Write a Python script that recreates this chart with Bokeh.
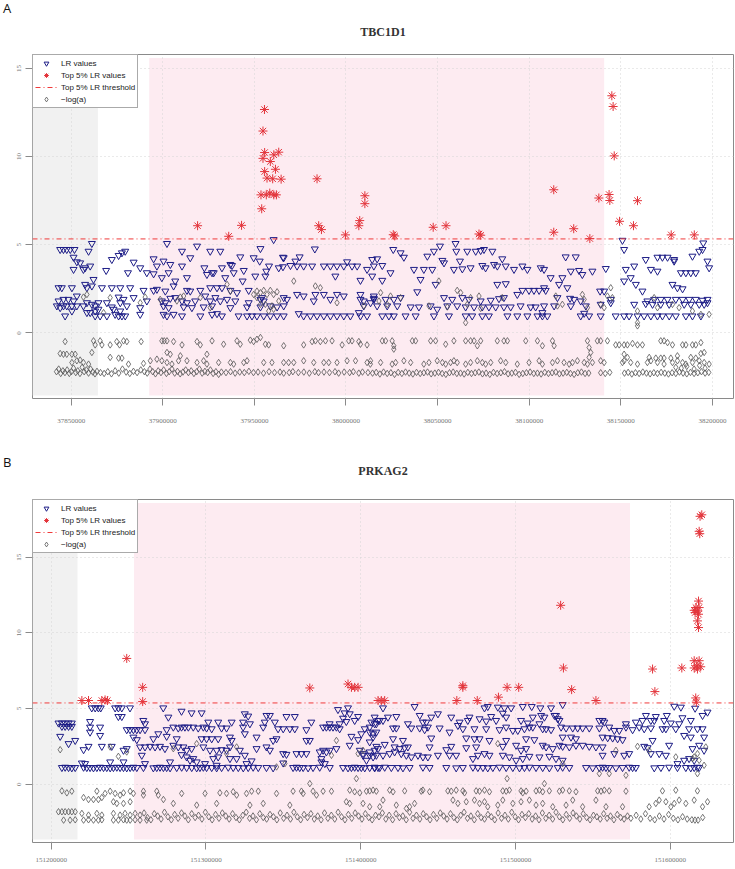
from bokeh.plotting import figure
from bokeh.models import (Range1d, FixedTicker, BasicTickFormatter, BoxAnnotation,
                          Legend, LegendItem, Div)
from bokeh.layouts import column, row
from bokeh.embed import file_html
from bokeh.resources import INLINE

# ---------------- DATA (positions in kb, values) ----------------
a_title = "TBC1D1"
b_title = "PRKAG2"
a_xticks = [37850000, 37900000, 37950000, 38000000, 38050000, 38100000, 38150000, 38200000]
b_xticks = [151200000, 151300000, 151400000, 151500000, 151600000]
y_ticks = [0, 5, 10, 15]
a_threshold = 5.33
b_threshold = 5.37
a_grey_region = (37828.9, 37864.6)
a_pink_region = (37892.6, 38140.9)
b_grey_region = (151187.9, 151217.0)
b_pink_region = (151253.5, 151574.0)

a_top = [(37919.0,6.08),(37936.0,5.48),(37943.0,6.10),(37955.5,12.67),(37954.7,11.45),(37955.6,10.23),
         (37954.7,9.90),(37960.6,10.10),(37963.3,10.25),(37958.7,9.72),(37961.5,9.28),(37955.6,9.15),
         (37956.9,8.78),(37960.0,8.74),(37964.6,8.72),(37953.6,7.83),(37956.5,7.83),(37958.4,7.93),
         (37960.6,7.83),(37962.0,7.83),(37954.0,7.04),(37984.2,8.74),(37985.1,6.08),(37986.6,5.86),
         (37999.7,5.56),(38007.0,6.08),(38007.5,6.37),(38010.3,7.78),(38010.3,7.33),(38025.8,5.57),
         (38026.6,5.50),(38047.6,5.99),(38054.6,6.08),(38072.6,5.61),(38073.5,5.54),(38113.4,8.12),
         (38113.4,5.71),(38124.3,5.91),(38133.1,5.35),(38138.0,7.65),(38143.6,7.85),(38144.0,7.51),
         (38145.1,13.45),(38145.8,12.84),(38146.4,10.04),(38149.3,6.33),(38156.9,6.08),(38159.1,7.50),
         (38177.5,5.56),(38190.1,5.56)]

a_lr = [(37844.0,4.73),(37845.8,4.73),(37847.6,4.73),(37849.5,4.73),(37851.8,4.73),(37861.3,5.07),(37859.5,4.63),
        (37875.9,4.39),(37877.7,4.54),(37879.5,4.63),(37902.3,5.07),(37910.5,4.63),(37918.7,4.92),(37925.9,4.63),
        (37931.4,4.63),(37942.3,4.31),(37953.3,4.78),(37974.7,4.31),(37983.0,4.76),(37965.6,4.29),(37960.5,5.29),
        (37851.3,4.29),(37853.1,4.03),(37854.9,3.97),(37872.2,4.16),(37884.1,4.01),(37895.0,4.20),(37900.4,4.07),
        (37915.0,4.26),(37936.9,3.88),(37949.6,4.26),(37952.9,4.07),(37966.0,4.26),(37972.4,4.07),(38000.6,4.03),
        (38017.0,4.20),
        (37856.7,3.60),(37857.6,3.69),(37851.3,3.60),(37860.4,3.79),(37869.1,3.54),(37881.0,3.41),(37887.7,3.69),
        (37891.3,3.41),(37896.8,3.79),(37904.1,3.88),(37910.5,3.79),(37922.7,3.69),(37927.8,3.41),(37932.3,3.69),
        (37937.8,3.82),(37944.2,3.54),(37956.5,3.50),(37958.0,3.79),(37965.6,3.75),(37969.7,3.82),(37973.3,3.79),
        (37976.9,3.79),(37981.5,3.79),(37987.9,3.79),(37991.5,3.79),(37995.1,3.79),(37998.8,3.79),(38003.3,3.79),
        (38006.1,3.79),(38011.5,3.60),(38015.2,3.79),
        (37895.0,3.35),(37899.5,3.13),(37903.2,3.41),(37906.8,2.94),(37913.2,3.13),(37924.1,3.31),(37926.9,3.41),
        (37934.1,3.13),(37938.7,3.41),(37943.6,2.94),(37950.5,3.22),(37956.0,3.22),(37963.3,3.69),(37994.2,3.22),
        (38007.9,2.98),(38014.3,3.22),(37862.2,3.03),
        (37843.1,2.56),(37844.9,2.56),(37850.4,2.56),(37857.6,2.75),(37858.6,2.56),(37861.3,2.66),(37866.8,2.56),
        (37872.2,2.56),(37876.8,2.56),(37882.2,2.56),(37889.5,2.41),(37895.0,2.41),(37896.8,2.47),(37901.4,2.37),
        (37905.9,2.66),(37913.2,2.41),(37915.0,2.37),(37920.5,2.41),(37925.9,2.56),(37929.6,2.56),(37932.3,2.56),
        (37936.9,2.41),(37940.5,2.28),(37946.9,2.41),(37973.3,2.18),(37976.9,2.09),(37983.3,2.18),(37987.9,2.18),
        (37995.1,2.18),(37998.8,2.09),(38007.9,2.18),(38015.2,2.09),
        (37853.1,2.09),(37875.9,2.03),(37884.1,2.00),(37904.1,1.96),(37906.8,2.00),(37923.2,2.09),(37928.7,2.00),
        (37935.1,1.90),(37954.2,2.00),(37967.8,1.90),(38007.9,1.90),
        (37843.1,1.81),(37845.8,1.90),(37848.5,1.90),(37851.3,1.81),(37858.6,1.71),(37864.9,1.71),(37869.5,1.71),
        (37876.8,1.71),(37878.6,1.90),(37891.3,1.81),(37899.5,1.81),(37901.4,1.71),(37910.5,1.81),(37913.2,1.71),
        (37917.7,1.81),(37925.9,1.81),(37931.4,1.81),(37939.6,1.81),(37946.9,1.71),(37953.3,1.90),(37955.1,1.81),
        (37966.0,2.00),(37982.4,1.81),(37991.5,1.90),(38009.7,1.81),(38015.2,1.90),
        (37842.2,1.53),(37844.0,1.43),(37845.8,1.53),(37847.6,1.53),(37850.4,1.53),(37853.1,1.53),(37856.7,1.53),
        (37861.3,1.62),(37863.1,1.53),(37872.2,1.47),(37880.4,1.53),(37887.7,1.43),(37900.4,1.53),(37903.2,1.43),
        (37911.4,1.47),(37915.9,1.43),(37922.3,1.47),(37926.9,1.53),(37936.9,1.43),(37946.0,1.47),(37953.3,1.47),
        (37958.7,1.53),(37962.4,1.47),(37966.0,1.53),(38009.7,1.53),
        (37850.4,1.24),(37858.6,1.15),(37860.4,1.15),(37863.1,1.24),(37864.9,1.34),(37873.1,1.34),(37876.8,1.24),
        (37846.7,0.96),(37863.1,0.96),(37865.8,0.96),(37869.5,0.96),(37874.0,1.05),(37875.9,0.96),(37877.7,0.96),
        (37879.5,0.96),(37887.7,1.05),(37900.4,1.05),(37902.3,0.96),(37905.9,1.05),(37910.5,0.96),(37920.5,0.96),
        (37926.9,1.05),(37929.6,1.09),(37932.3,0.96),(37941.4,0.96),(37946.0,0.96),(37948.7,0.96),(37951.4,0.96),
        (37955.1,0.96),(37958.7,0.96),(37962.4,0.96),(37966.0,0.96),(37974.2,1.09),(37976.9,0.96),(37980.6,0.96),
        (37984.2,0.96),(37987.9,0.96),(37991.5,0.96),(37995.1,0.96),(37998.8,0.96),(38002.4,0.96),(38007.0,1.15),
        (38007.9,0.96),(38011.5,0.96),
        (38059.8,5.07),(38060.2,4.63),(38051.3,4.92),(38150.9,5.25),(38151.8,4.73),(38195.0,5.10),
        (38025.8,4.73),(38029.8,4.54),(38031.6,4.29),(38044.4,4.35),(38048.0,4.63),(38052.6,4.11),(38062.2,4.07),
        (38066.2,4.63),(38070.8,4.63),(38073.5,4.67),(38075.3,4.73),(38079.9,4.63),(38085.3,4.20),(38087.2,3.79),
        (38119.9,4.31),(38125.4,4.31),(38170.0,4.29),(38172.7,4.29),(38175.5,4.29),(38179.1,4.16),(38189.1,4.35),
        (38192.8,4.63),(38194.6,4.73),
        (38014.3,4.16),(38019.8,3.82),(38024.3,3.41),(38037.1,3.60),(38042.5,3.60),(38047.1,3.60),(38053.5,3.97),
        (38058.9,3.60),(38063.5,3.63),(38068.0,3.69),(38074.4,3.82),(38076.2,3.69),(38080.8,3.88),(38082.6,3.79),
        (38091.7,3.60),(38096.3,3.79),(38099.0,3.60),(38106.3,3.69),(38108.1,3.60),(38111.7,3.13),(38116.3,2.75),
        (38118.1,3.13),(38122.7,3.50),(38127.2,3.54),(38129.0,3.31),(38134.5,3.50),(38141.8,3.65),(38152.7,3.60),
        (38157.3,3.79),(38163.6,4.16),(38166.4,3.60),(38170.0,3.50),(38179.1,4.07),(38182.8,3.41),(38185.5,3.41),
        (38188.2,3.41),(38190.9,3.41),(38197.3,4.07),(38198.2,3.69),
        (38019.8,2.98),(38040.7,3.03),(38048.9,2.75),(38082.6,2.75),(38087.2,2.79),(38093.5,2.18),(38108.1,2.56),
        (38120.8,2.56),(38138.7,2.37),(38178.2,2.75),(38180.9,2.56),(38183.7,2.50),(38151.8,2.94),(38155.4,3.13),
        (38158.2,2.75),(38161.8,2.37),
        (38015.2,1.96),(38021.6,1.90),(38026.1,1.90),(38029.8,2.00),(38038.9,2.33),(38053.5,2.00),(38058.0,1.90),
        (38063.5,2.00),(38067.1,1.90),(38073.5,1.81),(38079.0,1.85),(38083.5,1.94),(38086.2,2.00),(38096.3,2.41),
        (38099.9,2.41),(38102.6,2.41),(38105.4,2.41),(38109.0,2.41),(38115.4,2.00),(38122.3,1.96),(38124.5,1.90),
        (38128.1,1.81),(38140.9,2.37),(38144.5,1.90),(38164.5,1.81),(38168.2,1.90),(38171.8,1.90),(38175.5,1.90),
        (38180.0,1.90),(38183.7,1.90),(38187.3,1.90),(38190.9,1.90),(38194.6,1.85),(38197.3,1.90),
        (38013.4,1.71),(38017.0,1.53),(38022.5,1.53),(38028.0,1.53),(38035.3,1.47),(38039.8,1.47),(38046.2,1.53),
        (38049.8,1.34),(38055.3,1.53),(38060.7,1.53),(38065.3,1.47),(38069.9,1.47),(38074.4,1.47),(38078.0,1.47),
        (38081.7,1.47),(38086.2,1.47),(38089.9,1.47),(38095.3,1.53),(38100.8,1.47),(38103.5,1.47),(38108.1,1.53),
        (38113.6,1.53),(38122.7,1.53),(38130.9,1.53),(38139.0,1.62),(38144.5,1.71),(38157.3,1.62),(38163.6,1.66),
        (38167.3,1.62),(38171.8,1.62),(38176.4,1.62),(38184.6,1.62),(38188.2,1.62),(38192.8,1.62),(38195.5,1.62),
        (38197.3,1.71),
        (38019.8,0.96),(38023.4,0.96),(38026.1,0.96),(38032.5,0.96),(38038.0,0.96),(38048.0,0.96),(38056.2,0.96),
        (38065.3,0.96),(38068.9,0.96),(38074.4,0.96),(38078.0,0.96),(38088.1,0.96),(38093.5,0.96),(38099.0,0.96),
        (38104.5,0.96),(38107.2,0.96),(38109.9,0.96),(38128.1,0.96),(38132.7,0.96),(38139.0,0.96),(38147.2,0.96),
        (38151.8,0.96),(38154.5,0.96),(38159.1,0.96),(38162.7,0.96),(38166.4,0.96),(38170.0,0.96),(38172.7,0.96),
        (38176.4,0.96),(38180.0,0.96),(38185.5,0.96),(38189.1,0.96),(38193.7,0.96),(38107.2,1.15),(38130.0,1.11)]

a_nla = [(37949.6,2.18),(37951.4,2.37),(37953.3,2.28),(37955.1,2.41),(37956.9,2.18),(37958.7,2.41),(37960.5,2.18),
         (37962.4,2.33),(37956.0,1.62),(37959.6,1.53),(37963.3,1.81),(37953.3,1.62),(37957.8,1.24),(37960.5,1.34),
         (37951.4,2.00),(37890.4,2.03),(37887.7,1.71),(37898.6,1.90),(37907.7,1.81),(37909.6,2.03),(37925.9,1.43),
         (37935.1,2.75),(37936.9,2.37),(37971.5,2.94),(37983.3,2.66),(37986.0,2.56),(37995.1,1.71),(37856.7,2.03),
         (37858.6,2.18),(37871.3,2.00),(37867.7,1.15),(37920.5,2.00),(37911.4,2.09),(38009.7,1.53),
         (37846.7,-0.49),(37862.2,-0.45),(37863.1,-0.68),(37865.8,-0.45),(37866.8,-0.68),(37871.3,-0.68),
         (37874.9,-0.49),(37876.4,-0.68),(37878.6,-0.45),(37880.4,-0.49),(37888.2,-0.49),(37899.5,-0.45),
         (37900.8,-0.45),(37902.3,-0.45),(37905.9,-0.49),(37910.5,-0.68),(37918.7,-0.49),(37920.5,-0.68),
         (37926.9,-0.45),(37933.2,-0.64),(37940.5,-0.45),(37942.3,-0.64),(37947.8,-0.41),(37949.6,-0.49),
         (37951.4,-0.36),(37953.3,-0.26),(37956.0,-0.64),(37957.8,-0.68),(37966.0,-0.73),(37976.9,-0.68),
         (37981.5,-0.49),(37983.3,-0.45),(37986.0,-0.49),(37988.8,-0.45),(37992.4,-0.45),(37997.9,-0.68),
         (38001.5,-0.45),(38003.3,-0.45),(38007.0,-0.49),(38007.9,-0.64),(38011.5,-0.68),
         (37844.0,-1.17),(37845.8,-1.21),(37847.6,-1.21),(37850.4,-1.21),(37852.2,-1.21),(37861.3,-1.11),
         (37871.3,-1.39),(37875.9,-1.43),(37877.7,-1.43),(37902.3,-1.11),(37904.1,-1.21),(37909.6,-1.30),
         (37924.1,-1.21),
         (37850.4,-1.68),(37853.1,-1.58),(37854.9,-1.54),(37856.7,-1.68),(37859.5,-1.77),(37881.3,-1.77),
         (37889.5,-1.73),(37893.2,-1.58),(37896.8,-1.49),(37899.5,-1.58),(37902.3,-1.68),(37905.0,-1.77),
         (37908.6,-1.58),(37913.2,-1.58),(37918.7,-1.68),(37922.3,-1.58),(37924.1,-1.77),(37930.5,-1.68),
         (37936.9,-1.68),(37938.7,-1.77),(37944.2,-1.68),(37946.0,-1.58),(37955.1,-1.68),(37959.6,-1.68),
         (37966.0,-1.68),(37968.7,-1.68),(37971.5,-1.68),(37976.9,-1.58),(37982.4,-1.68),(37987.9,-1.68),
         (37990.6,-1.68),(37995.1,-1.68),(38000.6,-1.58),(38005.2,-1.58),(38011.5,-1.68),(38013.3,-1.77),
         (37842.0,-2.20),(37843.2,-2.05),(37844.3,-2.30),(37845.5,-2.15),(37846.6,-2.25),(37847.8,-2.10),
         (37849.0,-2.30),(37850.1,-2.20),(37851.3,-2.00),(37852.5,-2.25),(37853.6,-2.15),(37854.8,-2.30),
         (37856.0,-1.95),(37857.1,-2.20),(37858.3,-2.10),(37859.5,-2.28),(37860.6,-2.05),(37861.8,-2.22),
         (37863.0,-2.32),(37864.1,-2.18),(37866.0,-2.25),(37868.0,-2.30),(37870.0,-2.20),(37872.0,-2.32),
         (37874.0,-2.15),(37876.0,-2.28),(37878.0,-2.05),(37880.0,-2.22),(37882.0,-2.30),(37884.0,-2.18),
         (37886.0,-2.25),(37888.0,-2.10),(37890.0,-2.20),(37891.5,-2.28),(37893.0,-2.05),(37894.5,-2.20),
         (37896.0,-2.32),(37897.5,-2.15),(37899.0,-2.25),(37900.5,-2.10),(37902.0,-2.30),(37903.5,-2.20),
         (37905.0,-2.05),(37906.5,-2.28),(37908.0,-2.18),(37909.5,-2.32),(37911.0,-2.22),(37912.5,-2.10),
         (37914.0,-2.25),(37915.5,-2.15),(37917.0,-2.30),(37918.5,-2.20),(37920.0,-2.05),(37921.5,-2.28),
         (37923.0,-2.18),(37924.5,-2.25),(37926.0,-2.10),(37927.5,-2.30),(37929.0,-2.20),(37930.5,-2.35),
         (37932.0,-2.22),(37934.5,-2.25),(37937.0,-2.20),(37939.5,-2.28),(37942.0,-2.22),(37944.5,-2.25),
         (37947.0,-2.18),(37949.5,-2.25),(37952.0,-2.22),(37955.0,-2.28),(37958.0,-2.20),(37961.0,-2.25),
         (37964.0,-2.22),(37966.0,-2.28),(37969.0,-2.25),(37971.0,-2.20),(37974.0,-2.25),(37977.0,-2.22),
         (37980.0,-2.28),(37983.0,-2.20),(37985.0,-2.25),(37988.0,-2.22),(37991.0,-2.25),(37994.0,-2.20),
         (37996.0,-2.28),(37999.0,-2.22),(38002.0,-2.25),(38004.0,-2.20),(38007.0,-2.28),(38009.0,-2.22),
         (38012.0,-2.25),
         (38018.9,2.28),(38024.3,2.09),(38029.8,2.00),(38018.0,1.81),(38022.5,1.62),(38050.7,2.94),(38045.3,1.53),
         (38055.3,1.47),(38060.7,2.41),(38062.6,2.28),(38068.0,2.00),(38072.6,2.09),(38066.2,1.62),(38073.5,1.39),
         (38085.3,2.00),(38114.5,2.09),(38115.4,1.53),(38118.1,1.62),(38129.0,2.18),(38130.0,1.90),(38131.8,1.43),
         (38139.0,1.62),(38140.9,1.43),(38142.7,2.09),(38144.5,2.56),(38145.4,2.00),(38159.1,1.24),(38159.1,0.40),
         (38159.1,0.58),(38168.2,2.00),(38170.0,1.43),(38178.2,1.62),(38181.8,1.43),(38189.1,1.24),(38193.7,1.05),
         (38198.2,1.05),(38065.3,0.58),
         (38019.8,-0.45),(38021.6,-0.45),(38025.2,-0.45),(38026.1,-0.73),(38026.1,-0.92),(38036.2,-0.45),
         (38038.0,-0.45),(38046.2,-0.45),(38048.9,-0.45),(38054.4,-0.64),(38058.9,-0.45),(38065.3,-0.45),
         (38068.0,-0.45),(38069.9,-0.45),(38071.7,-0.73),(38073.5,-0.45),(38082.6,-0.45),(38086.2,-0.45),
         (38088.1,-0.45),(38098.1,-0.45),(38104.5,-0.45),(38107.2,-0.73),(38112.7,-0.45),(38113.6,-0.73),
         (38131.8,-0.45),(38132.7,-0.83),(38133.6,-1.11),(38137.2,-0.45),(38139.0,-0.45),(38142.7,-0.45),
         (38147.2,-0.68),(38149.1,-0.68),(38151.8,-0.68),(38153.6,-0.68),(38156.4,-0.60),(38159.1,-0.68),
         (38161.8,-0.68),(38171.8,-0.45),(38173.6,-0.45),(38175.5,-0.55),(38178.2,-0.68),(38183.7,-0.68),
         (38185.5,-0.68),(38189.1,-0.68),(38190.9,-0.68),(38193.7,-0.55),
         (38132.7,-1.39),(38151.8,-1.21),(38153.6,-1.39),(38165.5,-1.39),(38169.1,-1.43),(38171.8,-1.43),
         (38173.6,-1.43),(38177.3,-1.43),(38180.9,-1.30),(38193.7,-1.17),(38195.5,-1.11),(38188.2,-1.39),
         (38190.9,-1.43),
         (38013.4,-1.58),(38018.9,-1.68),(38025.2,-1.77),(38027.1,-1.68),(38031.6,-1.58),(38035.3,-1.68),
         (38042.5,-1.77),(38045.3,-1.68),(38049.8,-1.58),(38052.6,-1.68),(38054.4,-1.77),(38057.1,-1.68),
         (38058.9,-1.58),(38060.7,-1.68),(38065.3,-1.77),(38068.0,-1.68),(38071.7,-1.58),(38074.4,-1.68),
         (38076.2,-1.77),(38079.0,-1.68),(38084.4,-1.58),(38087.2,-1.68),(38093.5,-1.77),(38099.9,-1.68),
         (38105.4,-1.58),(38107.2,-1.77),(38112.7,-1.68),(38115.4,-1.58),(38119.0,-1.68),(38121.8,-1.77),
         (38123.6,-1.68),(38126.3,-1.58),(38130.0,-1.68),(38131.8,-1.77),(38134.5,-1.68),(38139.0,-1.58),
         (38140.9,-1.68),(38150.9,-1.68),(38151.8,-1.58),(38155.4,-1.68),(38159.1,-1.77),(38164.5,-1.68),
         (38166.4,-1.58),(38170.0,-1.68),(38173.6,-1.77),(38178.2,-1.68),(38180.9,-1.58),(38183.7,-1.68),
         (38185.5,-1.77),(38189.1,-1.68),(38192.8,-1.58),(38195.5,-1.68),(38198.2,-1.77),
         (38180.0,-1.95),(38183.0,-2.00),(38186.0,-1.90),(38190.0,-2.05),(38193.0,-1.85),(38196.0,-2.00),
         (38014.5,-2.28),(38016.5,-2.24),(38018.5,-2.33),(38020.5,-2.22),(38022.5,-2.30),(38024.5,-2.26),
         (38026.5,-2.35),(38028.5,-2.24),(38030.5,-2.30),(38032.5,-2.22),(38034.5,-2.28),(38036.5,-2.33),
         (38038.5,-2.24),(38040.5,-2.30),(38042.5,-2.26),(38044.5,-2.22),(38046.5,-2.32),(38048.5,-2.28),
         (38050.5,-2.24),(38052.5,-2.30),(38054.5,-2.35),(38056.5,-2.26),(38058.5,-2.22),(38060.5,-2.30),
         (38062.5,-2.28),(38064.5,-2.33),(38066.5,-2.24),(38068.5,-2.30),(38070.5,-2.26),(38072.5,-2.22),
         (38074.5,-2.32),(38076.5,-2.28),(38078.5,-2.35),(38080.5,-2.24),(38082.5,-2.30),(38084.5,-2.26),
         (38086.5,-2.20),(38088.5,-2.32),(38090.5,-2.28),(38092.5,-2.24),(38094.5,-2.35),(38096.5,-2.30),
         (38098.5,-2.26),(38100.5,-2.22),(38102.5,-2.30),(38104.5,-2.28),(38106.5,-2.33),(38108.5,-2.24),
         (38110.5,-2.30),(38112.5,-2.26),(38114.5,-2.22),(38116.5,-2.32),(38118.5,-2.28),(38120.5,-2.24),
         (38122.5,-2.30),(38124.5,-2.35),(38126.5,-2.26),(38128.5,-2.22),(38130.5,-2.30),(38132.5,-2.28),
         (38139.0,-2.26),(38141.5,-2.30),(38144.0,-2.24),
         (38152.0,-2.28),(38154.0,-2.24),(38156.0,-2.33),(38158.0,-2.26),(38160.0,-2.30),(38162.0,-2.22),
         (38164.0,-2.28),(38166.0,-2.32),(38168.0,-2.26),(38170.0,-2.30),(38172.0,-2.24),(38174.0,-2.28),
         (38176.0,-2.33),(38178.0,-2.26),(38180.0,-2.30),(38182.0,-2.22),(38184.0,-2.28),(38186.0,-2.32),
         (38188.0,-2.24),(38190.0,-2.30),(38192.0,-2.26),(38194.0,-2.20),(38196.0,-2.28),(38198.0,-2.24)]

b_top = [(151219.8,5.53),(151224.1,5.53),(151232.7,5.53),(151234.8,5.57),(151236.3,5.53),(151248.8,8.31),
         (151259.1,6.40),(151259.1,5.46),(151367.1,6.36),(151391.8,6.62),(151394.0,6.40),(151396.1,6.40),
         (151398.3,6.40),(151411.2,5.53),(151413.3,5.53),(151415.5,5.53),(151462.1,5.53),(151466.0,6.40),
         (151466.0,6.51),(151475.3,5.53),(151489.0,5.75),(151494.6,6.40),(151502.1,6.40),(151529.2,11.82),
         (151531.0,7.68),(151536.3,6.25),(151552.0,5.53),(151588.6,7.61),(151590.1,6.12),(151607.5,7.68),
         (151619.3,17.70),(151620.4,17.80),(151618.7,16.71),(151619.1,16.55),(151618.3,12.10),(151616.6,11.67),
         (151615.5,11.49),(151617.6,11.45),(151618.7,11.67),(151616.1,11.34),(151618.3,11.23),(151617.6,10.79),
         (151618.3,10.35),(151615.5,8.16),(151618.7,8.16),(151617.2,7.83),(151615.5,7.68),(151619.7,7.76),
         (151617.6,7.61),(151616.5,5.70),(151616.9,5.42)]

b_lr = [(151226.2,5.04),(151228.4,5.04),(151230.5,5.04),(151232.0,5.04),(151241.3,5.04),(151243.4,5.04),
        (151245.6,5.04),(151250.9,5.04),(151272.4,5.04),(151284.2,4.82),(151290.7,4.71),(151297.2,4.71),
        (151325.1,4.65),(151327.3,4.50),(151339.1,4.54),(151341.3,4.54),(151352.0,4.47),(151357.4,4.47),
        (151385.3,4.93),(151391.8,5.04),(151389.6,4.71),
        (151243.4,4.47),(151245.6,4.47),(151275.7,4.43),(151388.6,4.36),(151392.9,4.65),(151398.3,4.47),
        (151396.1,4.21),(151390.7,4.14),(151411.2,4.21),(151225.1,4.14),(151259.5,4.21),(151260.6,3.99),
        (151301.5,4.10),(151307.9,4.10),(151316.6,4.10),(151324.0,4.10),(151328.4,3.99),(151338.0,4.10),
        (151344.5,4.10),(151368.1,4.10),(151379.9,3.99),(151386.4,3.99),(151409.0,3.99),
        (151204.7,4.04),(151206.9,4.04),(151209.0,4.04),(151211.2,4.04),(151213.3,4.04),(151206.9,3.82),
        (151209.0,3.82),(151211.2,3.82),(151213.3,3.82),(151231.6,3.77),(151225.1,3.77),
        (151248.8,3.60),(151250.9,3.60),(151253.1,3.60),(151255.3,3.60),(151257.4,3.60),(151260.6,3.60),
        (151274.6,3.60),(151278.9,3.77),(151282.1,3.71),(151284.2,3.77),(151286.4,3.77),(151288.6,3.77),
        (151291.8,3.77),(151295.0,3.71),(151298.3,3.77),(151300.4,3.71),(151303.7,3.66),(151310.1,3.71),
        (151313.3,3.71),(151324.0,3.77),(151337.0,3.77),(151346.6,3.66),(151349.9,3.66),(151354.2,3.66),
        (151357.4,3.66),(151364.9,3.60),(151375.7,3.77),(151377.8,3.77),(151380.0,3.77),(151382.1,3.77),
        (151384.3,3.77),(151386.4,3.66),(151402.6,3.66),(151405.8,3.77),(151410.1,3.99),
        (151205.8,3.16),(151211.2,2.68),(151215.5,2.89),(151225.1,3.44),(151231.6,3.22),(151253.1,3.11),
        (151255.3,2.94),(151266.0,3.00),(151269.2,3.33),(151274.6,3.16),(151281.1,3.00),(151297.2,3.00),
        (151300.4,3.00),(151303.7,3.00),(151307.9,3.00),(151315.5,3.11),(151316.6,2.89),(151325.1,3.33),
        (151332.7,3.11),(151343.4,2.89),(151345.6,3.00),(151364.9,2.89),(151367.1,2.89),(151394.0,3.16),
        (151398.3,2.94),(151400.4,3.33),(151408.0,3.11),(151410.1,3.44),
        (151220.9,2.28),(151224.1,2.50),(151232.7,2.50),(151239.1,2.50),(151246.7,2.24),(151248.8,2.35),
        (151257.4,2.46),(151260.6,2.46),(151263.9,2.50),(151267.1,2.46),(151270.3,2.50),(151273.5,2.35),
        (151278.9,2.57),(151282.1,2.46),(151285.4,2.46),(151287.5,2.24),(151290.7,2.35),(151298.3,2.46),
        (151302.6,2.24),(151306.9,2.24),(151310.1,2.28),(151313.3,2.24),(151315.5,2.46),(151321.9,2.24),
        (151332.7,2.35),(151339.1,2.46),(151341.3,2.24),(151349.9,2.02),(151352.0,1.97),(151358.5,2.02),
        (151361.7,2.02),(151364.9,2.02),(151373.5,2.13),(151375.7,2.24),(151377.8,2.13),(151380.0,2.24),
        (151384.3,2.35),(151392.9,2.57),(151399.4,2.24),(151401.5,2.02),(151405.8,2.13),(151409.0,2.24),
        (151411.2,2.35),
        (151258.5,1.91),(151284.2,1.95),(151287.5,1.80),(151291.8,1.69),(151294.0,1.47),(151304.7,1.69),
        (151307.9,1.80),(151315.5,1.69),(151319.8,1.69),(151325.1,1.91),(151374.6,1.69),(151401.5,1.91),
        (151403.7,1.58),(151408.0,1.80),
        (151219.8,1.40),(151221.9,1.36),(151238.1,1.47),(151246.7,1.47),(151260.6,1.36),(151276.8,1.47),
        (151289.7,1.58),(151299.4,1.36),(151306.9,1.25),(151326.2,1.36),(151329.5,1.54),(151349.9,1.40),
        (151374.6,1.47),(151376.8,1.36),
        (151206.9,1.10),(151209.0,1.12),(151211.2,1.10),(151213.3,1.08),(151215.5,1.10),(151220.9,1.12),
        (151223.0,1.10),(151225.1,1.10),(151227.3,1.08),(151229.5,1.10),(151231.6,1.12),(151233.8,1.10),
        (151235.9,1.10),(151238.1,1.08),(151240.2,1.10),(151242.4,1.12),(151244.5,1.10),(151246.7,1.10),
        (151248.8,1.08),(151251.0,1.10),(151253.1,1.12),(151255.3,1.10),(151259.6,1.10),(151266.0,1.08),
        (151268.2,1.10),(151270.3,1.12),(151272.5,1.10),(151274.6,1.10),(151276.8,1.08),(151281.1,1.10),
        (151284.3,1.12),(151287.5,1.10),(151290.8,1.10),(151294.0,1.08),(151296.1,1.10),(151298.3,1.12),
        (151300.4,1.10),(151303.7,1.10),(151306.9,1.08),(151310.1,1.10),(151314.4,1.12),(151317.6,1.10),
        (151320.9,1.10),(151324.1,1.08),(151327.3,1.10),(151330.5,1.12),(151333.8,1.10),(151339.1,1.10),
        (151343.4,1.08),(151356.3,1.10),(151358.5,1.12),(151360.6,1.10),(151362.8,1.10),(151366.0,1.08),
        (151369.2,1.10),(151373.5,1.12),(151380.0,1.10),(151388.6,1.10),(151391.8,1.08),(151394.0,1.10),
        (151396.1,1.12),(151398.3,1.10),(151400.4,1.10),(151402.6,1.08),(151409.0,1.12),(151411.2,1.10),
        (151414.4,5.04),(151434.8,5.13),(151480.0,5.04),(151482.1,5.13),(151488.6,5.09),(151492.9,5.04),
        (151497.2,5.04),(151504.7,5.13),(151510.5,5.13),(151516.1,5.04),(151523.0,5.04),(151530.5,5.26),
        (151602.6,5.15),(151606.9,5.09),(151616.1,5.02),
        (151491.8,4.69),(151494.0,4.43),(151525.2,4.54),(151518.7,4.43),(151527.3,4.32),(151409.0,4.43),
        (151417.6,4.43),(151423.0,4.47),(151438.1,4.54),(151445.6,4.43),(151449.9,4.65),(151458.5,4.43),
        (151463.9,4.10),(151470.3,4.43),(151476.8,4.32),(151484.3,4.47),(151511.2,4.43),(151516.6,4.54),
        (151526.2,4.54),(151590.7,4.47),(151597.8,4.54),(151607.9,4.39),(151613.3,4.21),(151624.1,4.76),
        (151620.9,4.54),(151584.3,4.54),
        (151406.9,4.10),(151412.3,4.21),(151414.4,4.21),(151430.5,3.99),(151440.2,4.10),(151442.4,4.10),
        (151462.8,3.88),(151469.2,4.21),(151481.1,4.17),(151487.5,4.21),(151503.6,4.21),(151507.9,4.04),
        (151515.5,3.99),(151528.4,4.21),(151554.2,4.21),(151556.3,4.21),(151557.4,4.10),(151571.4,3.99),
        (151577.8,4.10),(151582.1,4.21),(151587.5,4.21),(151589.7,4.21),(151596.1,4.21),(151600.4,4.04),
        (151605.8,3.99),
        (151405.8,3.44),(151408.0,3.33),(151420.9,3.71),(151423.0,3.71),(151432.7,3.71),(151438.1,3.71),
        (151441.3,3.60),(151443.4,3.77),(151451.0,3.71),(151457.4,3.44),(151466.0,3.66),(151473.5,3.66),
        (151481.1,3.66),(151489.7,3.60),(151494.0,3.77),(151498.3,3.55),(151501.5,3.55),(151505.8,3.66),
        (151509.0,3.77),(151511.2,3.77),(151517.6,3.66),(151519.8,3.66),(151523.0,3.60),(151529.5,3.77),
        (151532.7,3.71),(151537.0,3.71),(151540.2,3.71),(151543.4,3.71),(151547.7,3.71),(151554.2,3.71),
        (151560.6,3.77),(151563.9,3.55),(151567.1,3.55),(151571.4,3.77),(151575.7,3.60),(151580.0,3.77),
        (151583.2,3.66),(151587.5,3.71),(151595.0,3.66),(151597.2,3.66),(151603.6,3.66),(151612.2,3.66),
        (151617.6,3.66),(151620.9,3.66),
        (151420.9,3.00),(151427.3,2.89),(151445.6,3.05),(151468.2,3.05),(151473.5,3.00),(151476.8,3.00),
        (151483.2,2.89),(151494.0,2.89),(151506.9,3.00),(151512.2,2.94),(151530.5,3.11),(151535.9,3.11),
        (151539.1,3.00),(151556.3,3.11),(151559.6,3.07),(151562.8,3.05),(151566.0,3.00),(151569.2,2.94),
        (151588.6,2.89),(151609.0,3.22),(151613.3,3.11),(151621.9,3.11),
        (151405.8,2.79),(151410.1,2.50),(151415.5,2.63),(151421.9,2.46),(151425.2,2.35),(151428.4,2.41),
        (151430.5,2.46),(151444.5,2.46),(151455.3,2.28),(151458.5,2.50),(151468.2,2.41),(151474.6,2.46),
        (151491.8,2.50),(151500.4,2.57),(151503.6,2.24),(151506.9,2.35),(151517.6,2.57),(151519.8,2.46),
        (151524.1,2.35),(151528.4,2.57),(151530.5,2.50),(151534.8,2.46),(151539.1,2.57),(151543.4,2.57),
        (151547.7,2.50),(151552.0,2.46),(151556.3,2.46),(151583.2,2.50),(151585.4,2.41),(151599.3,2.57),
        (151614.4,2.35),(151618.7,2.57),(151621.9,2.24),
        (151405.8,1.91),(151410.1,1.91),(151414.4,1.91),(151418.7,2.02),(151421.9,2.13),(151426.2,2.02),
        (151429.5,1.91),(151432.7,1.80),(151437.0,1.91),(151440.2,1.80),(151443.4,1.80),(151449.9,1.91),
        (151457.4,1.91),(151461.7,1.91),(151472.5,1.69),(151475.7,1.91),(151480.0,2.02),(151483.2,1.91),
        (151491.8,1.91),(151496.1,1.80),(151500.4,1.58),(151504.7,1.69),(151509.0,1.84),(151515.5,1.80),
        (151521.9,1.84),(151526.2,1.69),(151530.5,1.58),(151556.3,1.91),(151563.9,2.02),(151570.3,1.91),
        (151573.5,2.02),(151587.5,2.02),(151592.9,2.02),(151597.2,1.91),(151604.7,1.36),(151609.0,1.58),
        (151612.2,1.69),(151615.5,1.58),
        (151405.8,1.10),(151409.0,1.08),(151412.3,1.10),(151415.5,1.12),(151419.8,1.10),(151424.1,1.10),
        (151427.3,1.08),(151431.6,1.10),(151440.2,1.12),(151444.5,1.10),(151455.3,1.10),(151461.7,1.08),
        (151466.0,1.10),(151472.5,1.12),(151475.7,1.10),(151479.0,1.10),(151482.1,1.08),(151485.4,1.10),
        (151489.7,1.12),(151494.0,1.10),(151498.3,1.10),(151502.6,1.08),(151505.8,1.10),(151509.0,1.12),
        (151513.3,1.10),(151517.6,1.10),(151521.9,1.08),(151527.3,1.10),(151530.5,1.12),(151534.8,1.10),
        (151545.6,1.10),(151549.9,1.08),(151554.2,1.10),(151556.3,1.12),(151558.5,1.10),(151560.6,1.10),
        (151564.9,1.08),(151569.2,1.10),(151573.5,1.12),(151575.7,1.10),(151577.8,1.10),(151589.7,1.08),
        (151594.0,1.10),(151599.3,1.12),(151604.7,1.10),(151610.1,1.10),(151613.3,1.08),(151615.5,1.10),
        (151617.6,1.12),(151618.7,1.10)]

b_nla = [(151205.8,2.28),(151243.4,1.84),(151238.1,2.46),(151248.8,2.13),(151278.9,2.35),(151294.0,2.68),
         (151313.3,2.02),(151319.8,2.46),(151351.0,1.36),(151384.3,2.89),(151397.2,0.37),(151398.3,2.02),
         (151401.5,2.24),(151381.1,1.91),(151345.6,1.14),(151367.1,0.04),
         (151206.9,-0.44),(151210.1,-0.57),(151213.3,-0.46),(151229.5,-0.46),(151220.9,-0.88),(151224.1,-1.01),
         (151227.3,-1.01),(151230.5,-1.01),(151232.7,-0.88),(151234.8,-0.61),(151238.1,-0.46),(151241.3,-0.61),
         (151244.5,-0.72),(151246.7,-0.57),(151251.0,-0.46),(151253.1,-0.61),(151259.6,-0.46),(151259.6,-0.72),
         (151268.2,-0.46),(151269.2,-0.72),(151272.5,-1.01),(151284.3,-0.61),(151299.4,-0.61),(151309.0,-0.57),
         (151313.3,-0.61),(151317.6,-0.50),(151319.8,-0.72),(151326.2,-0.61),(151329.5,-0.46),(151333.8,-0.46),
         (151345.6,-0.61),(151356.3,-0.46),(151361.7,-0.46),(151362.8,-0.61),(151369.2,-0.46),(151371.4,-0.72),
         (151375.7,-0.46),(151381.1,-0.46),(151392.9,-0.39),(151396.1,-0.50),(151399.4,-0.57),(151403.7,-0.46),
         (151408.0,-0.39),
         (151240.2,-1.16),(151242.4,-1.27),(151246.7,-1.27),(151251.0,-1.16),(151328.4,-1.38),(151390.7,-1.16),
         (151392.9,-1.27),(151401.5,-1.27),(151405.8,-1.49),(151278.9,-1.27),(151294.0,-1.38),(151306.9,-1.27),
         (151337.0,-1.27),(151354.2,-1.38),
         (151204.7,-1.82),(151206.9,-1.82),(151209.0,-1.82),(151211.2,-1.82),(151213.3,-1.82),(151215.5,-1.82),
         (151208.0,-2.37),(151212.2,-2.37),(151215.5,-2.35),
         (151219.8,-1.93),(151224.1,-2.04),(151229.5,-1.93),(151232.7,-2.04),(151240.2,-1.93),(151244.5,-2.04),
         (151247.7,-1.93),(151251.0,-2.04),(151254.2,-1.93),(151257.4,-2.04),
         (151220.9,-2.37),(151224.1,-2.35),(151227.3,-2.37),(151230.5,-2.37),(151232.7,-2.35),(151240.2,-2.37),
         (151243.4,-2.37),(151246.7,-2.35),(151248.8,-2.37),(151251.0,-2.37),(151254.2,-2.35),(151257.4,-2.37),
         (151261.7,-2.37),
         (151260.0,-1.90),(151262.2,-2.20),(151264.4,-2.35),(151266.6,-1.95),(151268.8,-2.10),(151271.0,-2.30),
         (151273.2,-1.85),(151275.4,-2.15),(151277.6,-2.35),(151279.8,-2.00),(151282.0,-2.25),(151284.2,-1.90),
         (151286.4,-2.10),(151288.6,-2.35),(151290.8,-1.95),(151293.0,-2.20),(151295.2,-2.05),(151297.4,-2.30),
         (151299.6,-1.85),(151301.8,-2.15),(151304.0,-2.35),(151306.2,-2.00),(151308.4,-2.25),(151310.6,-1.90),
         (151312.8,-2.10),(151315.0,-2.30),(151317.2,-1.95),(151319.4,-2.20),(151321.6,-2.35),(151323.8,-2.05),
         (151326.0,-1.85),(151328.2,-2.25),(151330.4,-2.10),(151332.6,-2.35),(151334.8,-1.95),(151337.0,-2.20),
         (151339.2,-2.30),(151341.4,-2.00),(151343.6,-2.15),(151345.8,-2.35),(151348.0,-1.90),(151350.2,-2.25),
         (151352.4,-2.05),(151354.6,-2.30),(151356.8,-1.85),(151359.0,-2.15),(151361.2,-2.35),(151363.4,-2.00),
         (151365.6,-2.20),(151367.8,-1.95),(151370.0,-2.30),(151372.2,-2.10),(151374.4,-2.35),(151376.6,-1.90),
         (151378.8,-2.25),(151381.0,-2.05),(151383.2,-2.30),(151385.4,-1.85),(151387.6,-2.15),(151389.8,-2.35),
         (151392.0,-2.00),(151394.2,-2.25),(151396.4,-1.90),(151398.6,-2.10),(151400.8,-2.30),(151403.0,-1.95),
         (151405.2,-2.20),(151407.4,-2.35),(151409.6,-2.05),
         (151488.6,2.68),(151494.6,0.37),(151518.7,0.04),(151530.5,1.36),(151554.2,0.70),(151560.6,0.70),
         (151564.9,2.24),(151571.4,0.59),(151578.9,2.50),(151586.4,2.24),(151603.6,1.80),(151615.5,1.80),
         (151617.6,2.02),(151618.7,1.58),(151617.6,0.70),(151623.0,2.46),(151621.9,1.25),(151614.4,1.69),
         (151405.8,-0.44),(151410.1,-0.46),(151418.7,-0.39),(151420.9,-0.50),(151428.4,-0.44),(151439.1,-0.46),
         (151440.2,-0.39),(151444.5,-0.50),(151456.3,-0.44),(151458.5,-0.46),(151461.7,-0.39),(151466.0,-0.44),
         (151467.1,-0.57),(151474.6,-0.44),(151476.8,-0.46),(151480.0,-0.39),(151483.2,-0.50),(151491.8,-0.44),
         (151494.0,-0.46),(151496.1,-0.39),(151503.6,-0.44),(151504.7,-0.57),(151506.9,-0.46),(151513.3,-0.44),
         (151515.5,-0.39),(151517.6,-0.50),(151521.9,-0.44),(151528.4,-0.46),(151530.5,-0.39),(151534.8,-0.44),
         (151539.1,-0.50),(151553.1,-0.44),(151555.3,-0.46),(151557.4,-0.39),(151560.6,-0.44),(151571.4,-0.46),
         (151595.0,-0.44),(151603.6,-0.39),(151617.6,-0.44),
         (151412.3,-1.49),(151414.4,-1.05),(151423.0,-1.38),(151429.5,-1.60),(151431.6,-1.49),(151434.8,-1.27),
         (151459.6,-1.05),(151462.8,-1.27),(151468.2,-1.16),(151473.5,-1.05),(151476.8,-1.27),(151480.0,-1.16),
         (151482.1,-1.49),(151488.6,-1.38),(151491.8,-1.05),(151498.3,-1.27),(151503.6,-1.16),(151509.0,-1.05),
         (151513.3,-1.38),(151517.6,-1.27),(151524.1,-1.49),(151532.7,-1.38),(151537.0,-1.05),(151543.4,-1.49),
         (151552.0,-1.05),(151558.5,-1.49),(151569.2,-1.49),(151586.4,-1.49),(151590.7,-1.27),(151592.9,-1.05),
         (151597.2,-1.16),(151600.4,-1.49),(151602.6,-1.27),(151605.8,-1.05),(151610.1,-1.27),(151615.5,-1.05),
         (151624.1,-1.16),(151620.9,-1.49),
         (151411.8,-2.15),(151414.0,-1.90),(151416.2,-2.30),(151418.4,-2.05),(151420.6,-2.35),(151422.8,-1.95),
         (151425.0,-2.20),(151427.2,-2.10),(151429.4,-2.35),(151431.6,-1.85),(151433.8,-2.25),(151436.0,-2.05),
         (151438.2,-2.30),(151440.4,-1.95),(151442.6,-2.15),(151444.8,-2.35),(151447.0,-2.00),(151449.2,-2.25),
         (151451.4,-1.90),(151453.6,-2.10),(151455.8,-2.30),(151458.0,-1.95),(151460.2,-2.20),(151462.4,-2.35),
         (151464.6,-2.05),(151466.8,-1.85),(151469.0,-2.25),(151471.2,-2.10),(151473.4,-2.35),(151475.6,-1.95),
         (151477.8,-2.20),(151480.0,-2.30),(151482.2,-2.00),(151484.4,-2.15),(151486.6,-2.35),(151488.8,-1.90),
         (151491.0,-2.25),(151493.2,-2.05),(151495.4,-2.30),(151497.6,-1.85),(151499.8,-2.15),(151502.0,-2.35),
         (151504.2,-2.00),(151506.4,-2.20),(151508.6,-1.95),(151510.8,-2.30),(151513.0,-2.10),(151515.2,-2.35),
         (151517.4,-1.90),(151519.6,-2.25),(151521.8,-2.05),(151524.0,-2.30),(151526.2,-1.85),(151528.4,-2.15),
         (151530.6,-2.35),(151532.8,-2.00),(151535.0,-2.25),(151537.2,-1.90),(151539.4,-2.10),(151541.6,-2.30),
         (151543.8,-1.95),(151546.0,-2.20),(151548.2,-2.35),(151550.4,-2.05),(151552.6,-2.15),(151554.8,-2.30),
         (151557.0,-1.95),(151559.2,-2.25),(151561.4,-2.10),(151563.6,-2.35),(151565.8,-2.00),(151568.0,-2.20),
         (151570.2,-2.30),(151572.4,-2.10),(151574.6,-2.25),(151578.0,-2.05),(151581.0,-2.30),(151584.0,-1.95),
         (151587.0,-2.25),(151590.0,-2.35),(151593.0,-2.10),(151596.0,-2.30),(151599.0,-2.00),(151602.0,-2.25),
         (151605.0,-2.35),(151608.0,-2.15),(151611.0,-2.30),(151614.0,-2.35),(151616.0,-2.37),(151618.0,-2.37),
         (151621.0,-2.20)]

# ---------------- STYLE ----------------
NAVY = "#1c1c86"
RED = "#e3343b"
THR_RED = "#f03a3a"
GREY = "#555555"
PINK = "#fdebf1"
LIGHTGREY = "#f1f1f1"
DIV_W = 12
FIG_W = 735 - DIV_W


def split(pairs):
    return [p[0] * 1000 for p in pairs], [p[1] for p in pairs]


def build(title, xr, yr, xticks, lr, top, nla, thr, grey_reg, pink_reg,
          height, b_top, b_bottom, t_standoff, x_standoff):
    p = figure(width=FIG_W, height=height, x_range=Range1d(*xr), y_range=Range1d(*yr),
               output_backend="svg", toolbar_location=None, tools="",
               min_border_left=20, min_border_right=2, min_border_top=b_top,
               min_border_bottom=b_bottom, background_fill_color="white",
               border_fill_color="white")
    p.outline_line_color = "#8a8a8a"
    p.outline_line_width = 1

    p.title.text = title
    p.title.align = "center"
    p.title.text_font = "Liberation Serif"
    p.title.text_font_style = "bold"
    p.title.text_font_size = "12px"
    p.title.text_color = "#333333"
    p.title.standoff = t_standoff

    yspan = yr[1] - yr[0]
    for reg, col in ((grey_reg, LIGHTGREY), (pink_reg, PINK)):
        p.add_layout(BoxAnnotation(left=reg[0] * 1000, right=reg[1] * 1000,
                                   bottom=yr[0] + 0.009 * yspan, top=yr[1] - 0.01 * yspan,
                                   fill_color=col, fill_alpha=1, line_color=None, level="image"))

    for ax, ticks in ((p.xaxis, xticks), (p.yaxis, y_ticks)):
        ax.ticker = FixedTicker(ticks=ticks)
        ax.minor_tick_line_color = None
        ax.axis_line_color = None
        ax.major_tick_line_color = "#8a8a8a"
        ax.major_tick_out = 7
        ax.major_tick_in = 0
        ax.major_label_text_font = "Liberation Serif"
        ax.major_label_text_font_size = "7px"
        ax.major_label_text_color = "#777777"
    p.xaxis.formatter = BasicTickFormatter(use_scientific=False)
    p.xaxis.major_label_standoff = x_standoff
    p.yaxis.major_label_orientation = "vertical"
    p.yaxis.major_label_standoff = 4

    for g, ticks in ((p.xgrid, xticks), (p.ygrid, y_ticks)):
        g.ticker = FixedTicker(ticks=ticks)
        g.grid_line_color = "#d4d4d4"
        g.grid_line_dash = "1 3"
        g.grid_line_width = 1

    lx, ly = split(lr)
    tx, ty = split(top)
    nx, ny = split(nla)
    r_lr = p.scatter(lx, ly, marker="inverted_triangle", size=7, fill_color=None,
                     line_color=NAVY, line_width=1)
    r_nla = p.scatter(nx, ny, marker="diamond", size=6.5, fill_color=None,
                      line_color=GREY, line_width=0.8)
    r_top = p.scatter(tx, ty, marker="asterisk", size=9, line_color=RED, line_width=1)
    r_thr = p.line([xr[0], xr[1]], [thr, thr], line_color=THR_RED, line_dash="5 3 1 3", line_width=1)

    legend = Legend(items=[LegendItem(label="LR values", renderers=[r_lr]),
                           LegendItem(label="Top 5% LR values", renderers=[r_top]),
                           LegendItem(label="Top 5% LR threshold", renderers=[r_thr]),
                           LegendItem(label="\u2212log(a)", renderers=[r_nla])],
                    location="top_left", margin=0, padding=2, spacing=0,
                    glyph_width=22, glyph_height=12, label_height=12, label_standoff=4,
                    label_text_font="Liberation Sans", label_text_font_size="8px",
                    label_text_color="#222222", border_line_color="#555555",
                    border_line_width=1, background_fill_color="white",
                    background_fill_alpha=1)
    p.add_layout(legend)
    return p


def letter_div(letter, pad_top, height):
    html = ('<div style="padding:%dpx 0 0 3px;font-family:\'Open Sans\',sans-serif;'
            'font-size:13px;line-height:17px;color:#111111;">%s</div>' % (pad_top, letter))
    return Div(text=html, width=DIV_W, height=height, margin=0)


pa = build(a_title, (37828900, 38211500), (-3.72, 15.79), a_xticks, a_lr, a_top, a_nla,
           a_threshold, a_grey_region, a_pink_region, 436, 54, 38, 31, 13)
pb = build(b_title, (151187900, 151640900), (-3.85, 18.81), b_xticks, b_lr, b_top, b_nla,
           b_threshold, b_grey_region, b_pink_region, 433, 63, 27, 43, 8)

layout = column(row(letter_div("A", 0, 436), pa, spacing=0),
                row(letter_div("B", 18, 433), pb, spacing=0), spacing=0)
open("out.html", "w").write(file_html(layout, INLINE))
